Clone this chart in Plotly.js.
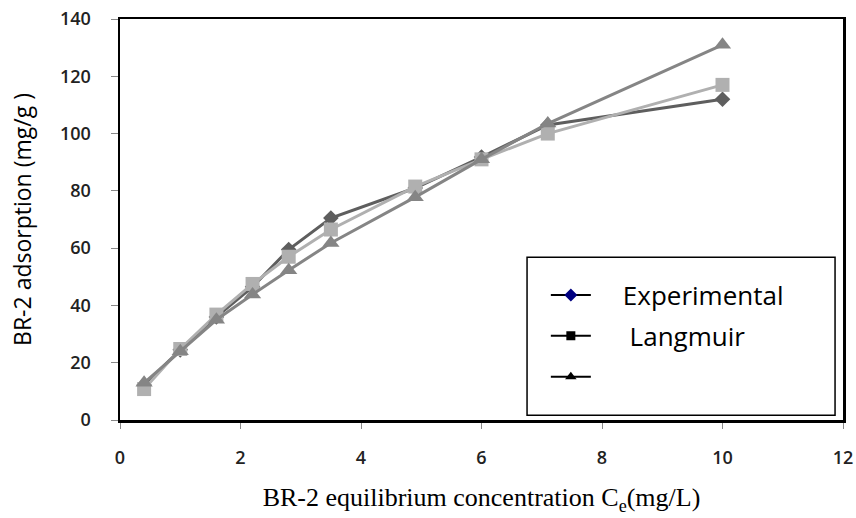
<!DOCTYPE html>
<html><head><meta charset="utf-8">
<script src="https://cdn.plot.ly/plotly-3.0.1.min.js"></script>
<style>html,body{margin:0;padding:0;background:#fff}#chart{width:856px;height:518px}</style>
</head><body><div id="chart"></div>
<script>
const ce = [0.4, 1.0, 1.6, 2.2, 2.8, 3.5, 4.9, 6.0, 7.1, 10.0];
const experimental = [12.2, 24.5, 36.0, 46.5, 59.5, 70.5, 81.0, 91.8, 103.0, 112.0];
const langmuir = [10.8, 24.8, 36.8, 47.5, 57.0, 66.5, 81.5, 91.0, 100.0, 117.0];
const third = [13.0, 24.0, 35.0, 43.8, 52.3, 61.8, 77.8, 91.0, 103.5, 131.0];
const legendNames = ['\u00A0\u00A0\u00A0\u00A0Experimental', '\u00A0\u00A0\u00A0\u00A0\u00A0Langmuir', ' '];

const traces = [
  {x: ce, y: experimental, mode: 'lines+markers', showlegend: false,
   line: {color: '#5e5e5e', width: 3}, marker: {symbol: 'diamond', size: 12, color: '#5e5e5e'}},
  {x: ce, y: langmuir, mode: 'lines+markers', showlegend: false,
   line: {color: '#b0b0b0', width: 3}, marker: {symbol: 'square', size: 14, color: '#b0b0b0'}},
  {x: ce, y: third, mode: 'lines+markers', showlegend: false,
   line: {color: '#858585', width: 3}, marker: {symbol: 'triangle-up', size: 15, color: '#858585'}},
  {x: [null], y: [null], mode: 'lines+markers', name: legendNames[0], legendgroup: 'a',
   line: {color: '#000', width: 2}, marker: {symbol: 'diamond', size: 10, color: '#000080'}},
  {x: [null], y: [null], mode: 'lines+markers', name: legendNames[1], legendgroup: 'b',
   line: {color: '#000', width: 2}, marker: {symbol: 'square', size: 9, color: '#000'}},
  {x: [null], y: [null], mode: 'lines+markers', name: legendNames[2], legendgroup: 'c',
   line: {color: '#000', width: 2}, marker: {symbol: 'triangle-up', size: 10, color: '#000'}}
];

const layout = {
  width: 856, height: 518,
  margin: {l: 120, r: 13, t: 19, b: 98},
  paper_bgcolor: '#fff', plot_bgcolor: '#fff',
  showlegend: true,
  legend: {x: 0.589, y: 0.37, xanchor: 'left', yanchor: 'top', bgcolor: 'rgba(0,0,0,0)',
           borderwidth: 0, tracegroupgap: 4, itemwidth: 40,
           font: {family: 'Open Sans, sans-serif', size: 26, color: '#000'}},
  shapes: [
    {type: 'rect', xref: 'paper', yref: 'paper', x0: 0.563, x1: 0.989, y0: 0.012, y1: 0.406,
     line: {color: '#000', width: 1.5}, fillcolor: '#fff', layer: 'below'}
  ],
  xaxis: {range: [0, 12], dtick: 2, tick0: 0, showgrid: false, zeroline: false,
          showline: true, linecolor: '#000', linewidth: 2.5, mirror: true,
          ticks: 'outside', ticklen: 6, tickcolor: '#888', tickwidth: 1,
          ticklabelstandoff: 14,
          tickfont: {family: 'Open Sans, sans-serif', size: 18, color: '#222', weight: 600},
          title: {text: 'BR-2 equilibrium concentration C<sub>e</sub>(mg/L)', standoff: 20,
                  font: {family: 'Liberation Serif, Times New Roman, serif', size: 26, color: '#000'}}},
  yaxis: {range: [0, 140], dtick: 20, tick0: 0, showgrid: false, zeroline: false,
          showline: true, linecolor: '#000', linewidth: 2.5, mirror: true,
          ticks: 'outside', ticklen: 7, tickcolor: '#888', tickwidth: 1,
          ticklabelstandoff: 16,
          tickfont: {family: 'Open Sans, sans-serif', size: 18, color: '#222', weight: 600},
          title: {text: 'BR-2 adsorption (mg/g )', standoff: 22,
                  font: {family: 'Open Sans, sans-serif', size: 23, color: '#000'}}}
};

Plotly.newPlot('chart', traces, layout, {displayModeBar: false, staticPlot: true});
</script></body></html>
